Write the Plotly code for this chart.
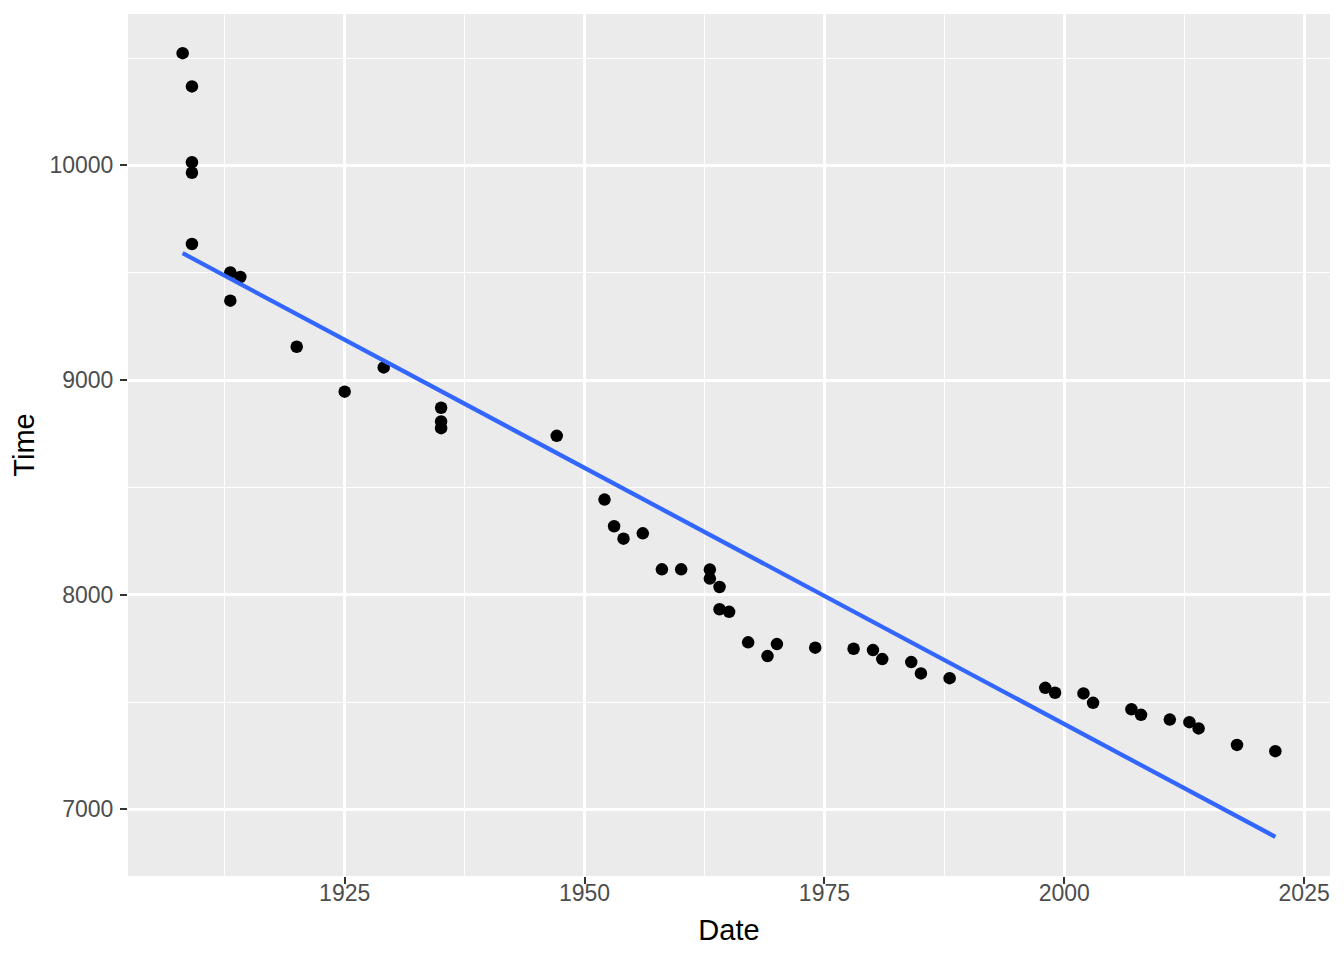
import numpy as np
import plotly.graph_objects as go

# marathon record progression: date (decimal year) vs time (seconds)
years = [1908.11, 1909.08, 1909.08, 1909.08, 1909.08, 1913.08, 1913.08, 1914.12,
         1920.0, 1925.0, 1929.07, 1935.05, 1935.05, 1935.05, 1947.1, 1952.08,
         1953.08, 1954.06, 1956.07, 1958.06, 1960.07, 1963.06, 1963.06, 1964.07,
         1964.07, 1965.07, 1967.05, 1969.07, 1970.05, 1974.04, 1978.04, 1980.06,
         1981.03, 1984.05, 1985.06, 1988.05, 1998.02, 1999.04, 2002.0, 2003.0,
         2007.0, 2008.0, 2011.0, 2013.04, 2014.0, 2018.0, 2022.0]
times = [10523, 10368, 10015, 9966, 9634, 9501, 9370, 9480,
         9155, 8946, 9059, 8871, 8807, 8776, 8740, 8443,
         8319, 8261, 8286, 8118, 8118, 8117, 8075, 8036,
         7932, 7920, 7778, 7714, 7770, 7753, 7748, 7742,
         7700, 7686, 7633, 7611, 7566, 7543, 7540, 7496,
         7466, 7440, 7418, 7406, 7377, 7300, 7271]

x_ticks = [1925, 1950, 1975, 2000, 2025]
y_ticks = [7000, 8000, 9000, 10000]

# linear fit, like geom_smooth(method = "lm", se = FALSE)
slope, intercept = np.polyfit(years, times, 1)
fit_x = np.linspace(min(years), max(years), 80)
fit_y = slope * fit_x + intercept

fig = go.Figure()
fig.add_trace(go.Scatter(x=years, y=times, mode='markers',
                         marker=dict(color='black', size=12.5), showlegend=False))
fig.add_trace(go.Scatter(x=fit_x, y=fit_y, mode='lines',
                         line=dict(color='#3366FF', width=4.3), showlegend=False))

axis_common = dict(
    showgrid=True, gridcolor='white', gridwidth=2.6,
    zeroline=False, showline=False, automargin=False,
    ticks='outside', ticklen=7, tickwidth=2, tickcolor='#333333',
    tickformat='d',
    tickfont=dict(family='Liberation Sans, Arial', size=23, color='#4D4D4D'),
    title_font=dict(family='Liberation Sans, Arial', size=29, color='black'),
)

xr = (min(years), max(years))
yr = (min(min(times), fit_y.min()), max(max(times), fit_y.max()))
xpad = (xr[1] - xr[0]) * 0.05
ypad = (yr[1] - yr[0]) * 0.05

fig.update_xaxes(**axis_common, title_text='Date', tickvals=x_ticks,
                 range=[xr[0] - xpad, xr[1] + xpad], title_standoff=15,
                 ticklabelstandoff=-11,
                 minor=dict(showgrid=True, gridcolor='white', gridwidth=1.3,
                            tickvals=[t - 12.5 for t in x_ticks]))
fig.update_yaxes(**axis_common, title_text='Time', tickvals=y_ticks,
                 range=[yr[0] - ypad, yr[1] + ypad], title_standoff=6,
                 ticklabelstandoff=2,
                 minor=dict(showgrid=True, gridcolor='white', gridwidth=1.3,
                            tickvals=[t + 500 for t in y_ticks]))

# page body adds 8px of margin, so the figure is a bit smaller than the window
fig.update_layout(
    width=1336, height=952,
    margin=dict(l=120, r=14, t=6, b=84),
    plot_bgcolor='#EBEBEB', paper_bgcolor='white',
)

fig.write_html("out.html")
